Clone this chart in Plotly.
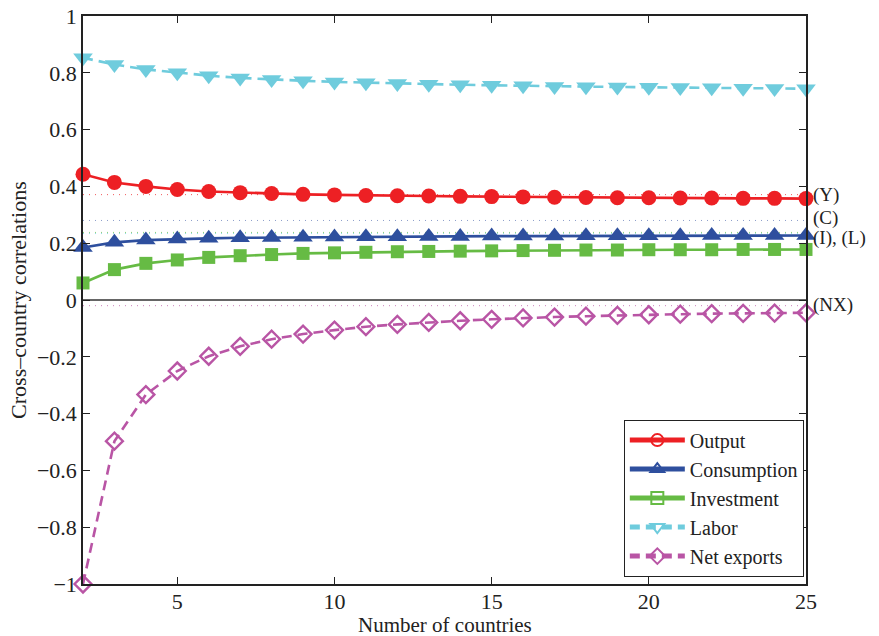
import plotly.graph_objects as go

countries = list(range(2, 26))

output = [0.443, 0.414, 0.400, 0.389, 0.382, 0.378, 0.375, 0.372, 0.370, 0.368, 0.367, 0.366,
          0.365, 0.364, 0.363, 0.362, 0.361, 0.360, 0.360, 0.359, 0.359, 0.358, 0.358, 0.357]
consumption = [0.185, 0.203, 0.211, 0.215, 0.217, 0.219, 0.220, 0.221, 0.222, 0.223, 0.223, 0.224,
               0.224, 0.225, 0.225, 0.225, 0.226, 0.226, 0.226, 0.226, 0.227, 0.227, 0.227, 0.227]
investment = [0.060, 0.107, 0.129, 0.141, 0.150, 0.156, 0.160, 0.164, 0.166, 0.168, 0.170, 0.171,
              0.172, 0.173, 0.174, 0.175, 0.176, 0.176, 0.177, 0.177, 0.177, 0.178, 0.178, 0.178]
labor = [0.853, 0.829, 0.812, 0.800, 0.790, 0.782, 0.776, 0.772, 0.768, 0.765, 0.762, 0.760,
         0.758, 0.756, 0.754, 0.752, 0.751, 0.750, 0.749, 0.748, 0.747, 0.746, 0.745, 0.744]
net_exports = [-1.000, -0.497, -0.333, -0.250, -0.198, -0.163, -0.138, -0.120, -0.106, -0.094, -0.086, -0.079,
               -0.073, -0.068, -0.063, -0.060, -0.057, -0.054, -0.052, -0.050, -0.048, -0.047, -0.046, -0.045]

# data targets (dotted reference lines)
target_values = [0.371, 0.280, 0.238, 0.234, -0.020]
target_colors = ["rgba(237,32,36,0.75)", "rgba(46,79,158,0.55)", "rgba(102,187,68,0.75)",
                 "rgba(111,204,221,0.75)", "rgba(185,85,165,0.75)"]

label_texts = ["(Y)", "(C)", "(I), (L)", "(NX)"]
label_values = [0.368, 0.288, 0.218, -0.019]

series_names = ["Output", "Consumption", "Investment", "Labor", "Net exports"]
series_data = [output, consumption, investment, labor, net_exports]
colors = ["#ED2024", "#2E4F9E", "#66BB44", "#6FCCDD", "#B955A5"]
symbols = ["circle", "triangle-up", "square", "triangle-down", "diamond-open"]
legend_symbols = ["circle-open", "triangle-up-open", "square-open", "triangle-down-open", "diamond-open"]
sizes = [15, 17, 13, 17, 13]
dashes = ["solid", "solid", "solid", "10px,6px", "10px,6px"]

FONT = "Liberation Serif, Times New Roman, serif"
FS = 22

fig = go.Figure()

for name, data, c, s, sz, d in zip(series_names, series_data, colors, symbols, sizes, dashes):
    fig.add_trace(go.Scatter(
        x=countries, y=data, mode="lines+markers", name=name, showlegend=False,
        line=dict(color=c, width=2.6, dash=d),
        marker=dict(symbol=s, size=sz, color=c, line=dict(color=c, width=2.4 if "open" in s else 0)),
        cliponaxis=False,
    ))

for name, c, s, d in zip(series_names, colors, legend_symbols, dashes):
    fig.add_trace(go.Scatter(
        x=[None], y=[None], mode="lines+markers", name=name, showlegend=True,
        line=dict(color=c, width=2.6, dash=d),
        marker=dict(symbol=s, size=12, color=c, line=dict(color=c, width=2.4)),
    ))

shapes = []
for v, c in zip(target_values, target_colors):
    shapes.append(dict(type="line", xref="paper", x0=0, x1=1, yref="y", y0=v, y1=v,
                       line=dict(color=c, width=1, dash="1px,5px"), layer="below"))
shapes.append(dict(type="line", xref="paper", x0=0, x1=1, yref="y", y0=0, y1=0,
                   line=dict(color="#333333", width=1.5), layer="below"))

annotations = []
for t, v in zip(label_texts, label_values):
    annotations.append(dict(text=t, xref="paper", x=1, xanchor="left", xshift=5,
                            yref="y", y=v, yanchor="middle", showarrow=False,
                            font=dict(family=FONT, size=19, color="#222")))
annotations.append(dict(text="Cross\u2013country correlations", xref="paper", x=-0.09,
                        xanchor="center", yref="paper", y=0.5, yanchor="middle",
                        textangle=-90, showarrow=False,
                        font=dict(family=FONT, size=FS, color="#222")))
annotations.append(dict(text="Number of countries", xref="paper", x=0.5, xanchor="center",
                        yref="paper", y=0, yshift=-41, yanchor="middle", showarrow=False,
                        font=dict(family=FONT, size=21, color="#222")))

axis_common = dict(showline=True, linecolor="#222", linewidth=1.5, mirror="allticks",
                   ticks="inside", ticklen=7, tickwidth=1, tickcolor="#222",
                   showgrid=False, zeroline=False, automargin=False,
                   tickfont=dict(family=FONT, size=FS, color="#222"))

fig.update_layout(
    width=879, height=636,
    margin=dict(l=83, r=73, t=16, b=52),
    paper_bgcolor="white", plot_bgcolor="white",
    xaxis=dict(range=[2, 25], tickvals=[5, 10, 15, 20, 25], ticklabelstandoff=-3, **axis_common),
    yaxis=dict(range=[-1, 1], tickvals=[-1, -0.8, -0.6, -0.4, -0.2, 0, 0.2, 0.4, 0.6, 0.8, 1],
               ticktext=["\u22121", "\u22120.8", "\u22120.6", "\u22120.4", "\u22120.2", "0",
                         "0.2", "0.4", "0.6", "0.8", "1"], **axis_common),
    legend=dict(x=0.997, xanchor="right", y=0.013, yanchor="bottom",
                bgcolor="white", bordercolor="#222", borderwidth=1,
                font=dict(family=FONT, size=20, color="#222"),
                tracegroupgap=0, itemsizing="constant", itemwidth=55),
    shapes=shapes, annotations=annotations,
    showlegend=True,
)

fig.write_html("out.html", config={"displayModeBar": False},
               post_script="document.body.style.margin='0';document.body.style.padding='0';document.body.style.overflow='hidden';")
